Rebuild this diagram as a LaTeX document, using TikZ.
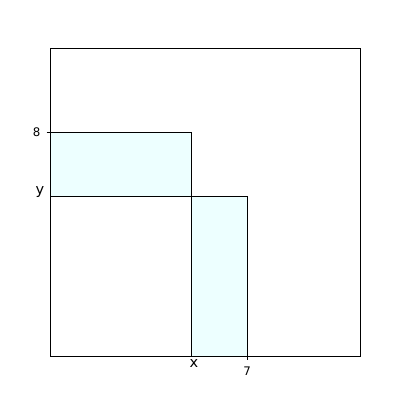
\documentclass[tikz,border=0pt]{standalone}
\usepackage{fontspec}
\setmainfont{DejaVu Sans}
\usepackage{tikz}
\usetikzlibrary{positioning}
\definecolor{paleCyan}{HTML}{EDFFFF}
\begin{document}
\begin{tikzpicture}[x=0.72pt, y=-0.72pt,
  blk/.style={draw=black, fill=paleCyan, line width=0.6pt},
  tck/.style={line width=0.6pt},
  lbl/.style={font=\fontsize{8.5}{9}\selectfont, inner sep=1pt},
  var/.style={font=\fontsize{10.5}{11}\selectfont, inner sep=1pt}]
\useasboundingbox (0,0) rectangle (400,400);
% shaded blocks
\draw[blk] (50,132) rectangle (191,196);
\draw[blk] (191,196) rectangle (247,356);
% axes frame
\draw[line width=0.7pt] (50,48) rectangle (360,356);
% ticks and labels
\draw[tck] (46.5,132) -- (50,132);
\draw[tck] (247,356) -- (247,359.5);
\node[lbl, anchor=east] (ylim) at (42,132) {8};
\node[var, anchor=east] (ylab) at (46,192) {y};
\node[var, anchor=north] (xlab) at (194,358) {x};
\node[lbl, anchor=north] (xlim) at (247,365) {7};
\end{tikzpicture}
\end{document}
